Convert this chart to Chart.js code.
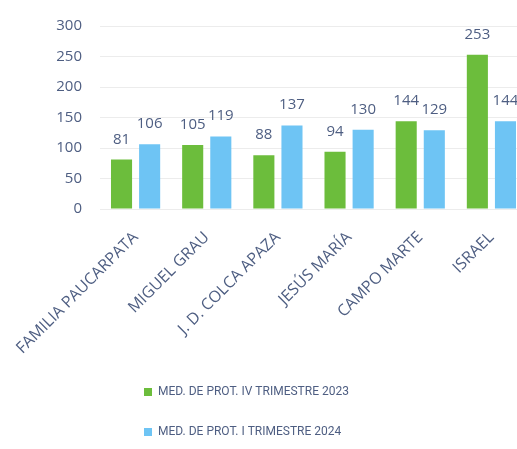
<!DOCTYPE html>
<html>
<head>
<meta charset="utf-8">
<script src="https://cdn.jsdelivr.net/npm/chart.js@4"></script>
<style>
  html, body { margin: 0; padding: 0; background: #fff; overflow: hidden; }
  #wrap { position: relative; width: 530px; height: 449px; }
</style>
</head>
<body>
<div id="wrap"><canvas id="c"></canvas></div>
<script>
const categories = ["FAMILIA PAUCARPATA", "MIGUEL GRAU", "J. D. COLCA APAZA", "JESÚS MARÍA", "CAMPO MARTE", "ISRAEL"];
const seriesNames = ["MED. DE PROT. IV TRIMESTRE 2023", "MED. DE PROT. I TRIMESTRE 2024"];
const valuesQ4_2023 = [81, 105, 88, 94, 144, 253];
const valuesQ1_2024 = [106, 119, 137, 130, 129, 144];
const yTicks = [0, 50, 100, 150, 200, 250, 300];

const textColor = '#4e5e82';
const fontFamily = "'Open Sans', 'Liberation Sans', sans-serif";
const legendFont = "Roboto, 'Open Sans', sans-serif";

const valueLabels = {
  id: 'valueLabels',
  afterDatasetsDraw(chart) {
    const ctx = chart.ctx;
    ctx.save();
    ctx.font = "15px " + fontFamily;
    ctx.fillStyle = textColor;
    ctx.textAlign = 'center';
    ctx.textBaseline = 'alphabetic';
    chart.data.datasets.forEach((ds, i) => {
      chart.getDatasetMeta(i).data.forEach((bar, j) => {
        ctx.fillText(String(ds.data[j]), bar.x, bar.y - 16);
      });
    });
    ctx.restore();
  }
};

const stackedLegend = {
  id: 'stackedLegend',
  afterInit(chart) {
    const lg = chart.legend;
    if (!lg) return;
    const orig = lg.update.bind(lg);
    lg.update = function (w, h, m) { return orig(Math.min(w, 230), h, m); };
  },
  afterLayout(chart) {
    const lg = chart.legend;
    if (!lg) return;
    const shift = 116 - lg.left;
    lg.left += shift;
    lg.right += shift;
  }
};

new Chart(document.getElementById('c'), {
  type: 'bar',
  data: {
    labels: categories,
    datasets: [
      { label: seriesNames[0], data: valuesQ4_2023, backgroundColor: '#6cbd3c' },
      { label: seriesNames[1], data: valuesQ1_2024, backgroundColor: '#6ec4f4' }
    ]
  },
  options: {
    responsive: true,
    maintainAspectRatio: false,
    animation: false,
    layout: { padding: { left: 55, top: 26, right: 3, bottom: 1 } },
    datasets: { bar: { categoryPercentage: 0.79, barPercentage: 0.75 } },
    plugins: {
      tooltip: { enabled: false },
      legend: {
        position: 'bottom',
        align: 'start',
        labels: {
          boxWidth: 8, boxHeight: 8, padding: 28,
          color: textColor,
          font: { family: legendFont, size: 12 }
        }
      }
    },
    scales: {
      x: {
        grid: { display: false, drawTicks: false },
        border: { display: false },
        ticks: {
          color: textColor, font: { family: fontFamily, size: 16 },
          minRotation: 45, maxRotation: 45, padding: 19, autoSkip: false
        },
        afterFit(scale) {
          scale.height = 149;
          scale.paddingLeft = 0; scale.paddingRight = 0;
        }
      },
      y: {
        min: 0, max: 300,
        afterBuildTicks(scale) { scale.ticks = yTicks.map(v => ({ value: v })); },
        grid: { color: '#ececec', drawTicks: false },
        border: { display: false },
        ticks: { color: textColor, font: { family: fontFamily, size: 15 }, padding: 18 },
        afterFit(scale) {
          scale.width = 45;
          scale.paddingTop = 0; scale.paddingBottom = 0;
        }
      }
    }
  },
  plugins: [valueLabels, stackedLegend]
});
</script>
</body>
</html>
